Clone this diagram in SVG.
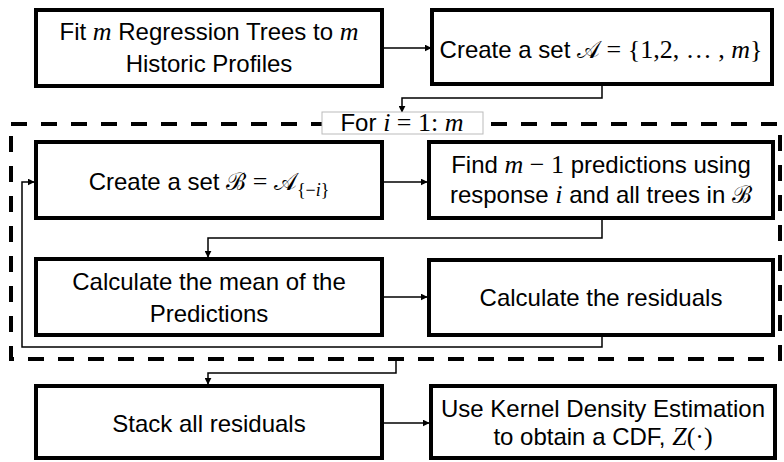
<svg xmlns="http://www.w3.org/2000/svg" width="784" height="462" viewBox="0 0 784 462">
<style>
.box{fill:#fff;stroke:#000;stroke-width:4}
.t{font-family:"Liberation Sans",Arial,sans-serif;font-size:24px;fill:#000;text-anchor:middle}
.m{font-family:"Liberation Serif","DejaVu Serif",serif;font-style:italic;font-size:26px}
.r{font-family:"Liberation Serif","DejaVu Serif",serif;font-size:26px}
.sc{font-family:"DejaVu Serif","Noto Sans",serif;font-style:normal}
.c{fill:none;stroke:#000;stroke-width:1.5}
.dash{fill:none;stroke:#000;stroke-width:4;stroke-dasharray:16 14}
</style>
<defs>
<marker id="ah" viewBox="0 0 10 10" refX="9" refY="5" markerWidth="7" markerHeight="7" markerUnits="userSpaceOnUse" orient="auto">
<path d="M0,0 L10,5 L0,10 z" fill="#000"/>
</marker>
</defs>
<g id="loop-frame">
<rect class="dash" x="11" y="124" width="769" height="235"/>
</g>
<g id="connectors">
<path class="c" d="M382,48 H431" marker-end="url(#ah)"/>
<path class="c" d="M602,84 V98 H402 V112" marker-end="url(#ah)"/>
<path class="c" d="M382,182 H427" marker-end="url(#ah)"/>
<path class="c" d="M602,218 V238 H208 V257" marker-end="url(#ah)"/>
<path class="c" d="M382,297 H427" marker-end="url(#ah)"/>
<path class="c" d="M602,335 V347 H22 V182 H34" marker-end="url(#ah)"/>
<path class="c" d="M396,359 V373 H208 V384" marker-end="url(#ah)"/>
<path class="c" d="M382,423 H429" marker-end="url(#ah)"/>
</g>
<g id="loop-label">
<rect x="322" y="112" width="161" height="22" fill="#fff" stroke="#bbb" stroke-width="1"/>
<text class="t" x="402" y="131">For <tspan class="m">i</tspan><tspan class="r"> = 1: </tspan><tspan class="m">m</tspan></text>
</g>
<g id="n1">
<rect class="box" x="36" y="10" width="346" height="76"/>
<text class="t" x="209" y="40">Fit <tspan class="m">m</tspan> Regression Trees to <tspan class="m">m</tspan></text>
<text class="t" x="209" y="72">Historic Profiles</text>
</g>
<g id="n2">
<rect class="box" x="432" y="10" width="340" height="74"/>
<text class="t" x="601" y="58">Create a set <tspan class="sc">𝒜</tspan><tspan class="r"> = {1,2, … , </tspan><tspan class="m">m</tspan><tspan class="r">}</tspan></text>
</g>
<g id="n3">
<rect class="box" x="36" y="142" width="346" height="76"/>
<text class="t" x="209" y="190">Create a set <tspan class="sc">ℬ</tspan><tspan class="r"> = </tspan><tspan class="sc">𝒜</tspan><tspan class="r" style="font-size:18px" dy="6">{−</tspan><tspan class="m" style="font-size:18px">i</tspan><tspan class="r" style="font-size:18px">}</tspan></text>
</g>
<g id="n4">
<rect class="box" x="429" y="142" width="344" height="76"/>
<text class="t" x="601" y="173">Find <tspan class="m">m</tspan><tspan class="r"> − 1</tspan> predictions using</text>
<text class="t" x="601" y="203">response <tspan class="m">i</tspan> and all trees in <tspan class="sc">ℬ</tspan></text>
</g>
<g id="n5">
<rect class="box" x="36" y="259" width="346" height="76"/>
<text class="t" x="209" y="290">Calculate the mean of the</text>
<text class="t" x="209" y="322">Predictions</text>
</g>
<g id="n6">
<rect class="box" x="429" y="260" width="344" height="75"/>
<text class="t" x="601" y="306">Calculate the residuals</text>
</g>
<g id="n7">
<rect class="box" x="36" y="386" width="346" height="72"/>
<text class="t" x="209" y="432">Stack all residuals</text>
</g>
<g id="n8">
<rect class="box" x="431" y="386" width="344" height="72"/>
<text class="t" x="603" y="417">Use Kernel Density Estimation</text>
<text class="t" x="603" y="445">to obtain a CDF, <tspan class="m">Z</tspan><tspan class="r">(·)</tspan></text>
</g>
</svg>
